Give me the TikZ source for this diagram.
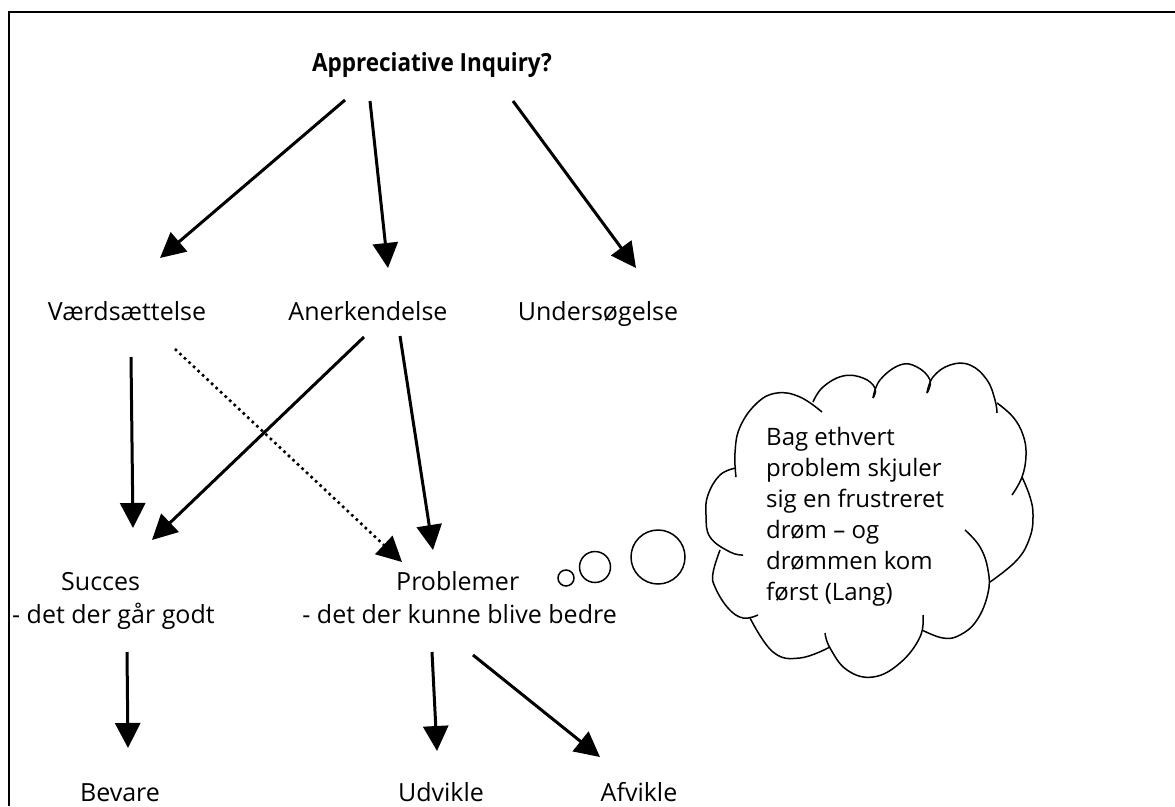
\documentclass[tikz,border=0pt]{standalone}
\usepackage{fontspec}
\setmainfont{Open Sans}
\usetikzlibrary{arrows.meta}
\begin{document}
\begin{tikzpicture}[x=1pt,y=-1pt,
  lbl/.style={inner sep=0pt, font=\fontsize{25}{30}\selectfont},
  ttl/.style={inner sep=0pt, font=\fontsize{25}{30}\selectfont\bfseries},
  conn/.style={line width=3pt, -{Triangle[length=25pt,width=25pt]}},
  dotconn/.style={line width=2.6pt, dash pattern=on 2.6pt off 3.6pt, -{Triangle[length=25pt,width=25pt]}},
  cloudline/.style={line width=1.5pt, smooth, tension=0.7},
  bub/.style={line width=1.5pt}
]
\useasboundingbox (0,0) rectangle (1175,806);
\draw[line width=2pt] (1175,12) -- (9,12) -- (9,806);

% labels
\node[ttl, anchor=base] (ai) at (432,71) {\scalebox{0.9}[1]{Appreciative Inquiry?}};
\node[lbl, anchor=base] (vard) at (127,320) {Værdsættelse};
\node[lbl, anchor=base] (aner) at (368,320) {Anerkendelse};
\node[lbl, anchor=base] (under) at (598,320) {Undersøgelse};
\node[lbl, anchor=base west] (succ) at (61,590) {Succes};
\node[lbl, anchor=base west] (succsub) at (12,623) {- det der går godt};
\node[lbl, anchor=base west] (prob) at (396,590) {Problemer};
\node[lbl, anchor=base east] (probsub) at (617,623) {- det der kunne blive bedre};
\node[lbl, anchor=base] (bev) at (120,801) {Bevare};
\node[lbl, anchor=base] (udv) at (441,801) {Udvikle};
\node[lbl, anchor=base] (afv) at (639,801) {Afvikle};

% connector end points
\coordinate (a1s) at (345,100); \coordinate (a1e) at (160,258);
\coordinate (a2s) at (370,101); \coordinate (a2e) at (388,268);
\coordinate (a3s) at (513,101); \coordinate (a3e) at (636,268);
\coordinate (a4s) at (131,357); \coordinate (a4e) at (133,528);
\coordinate (a5s) at (364,337); \coordinate (a5e) at (152,540);
\coordinate (a6s) at (400,336); \coordinate (a6e) at (433,550);
\coordinate (a7s) at (175,349); \coordinate (a7e) at (402,562);
\coordinate (a8s) at (127,652); \coordinate (a8e) at (128,748);
\coordinate (a9s) at (432,652); \coordinate (a9e) at (437,751);
\coordinate (a10s) at (473,655); \coordinate (a10e) at (600,757);

\draw[conn] (a1s) -- (a1e);
\draw[conn] (a2s) -- (a2e);
\draw[conn] (a3s) -- (a3e);
\draw[conn] (a4s) -- (a4e);
\draw[conn] (a5s) -- (a5e);
\draw[conn] (a6s) -- (a6e);
\draw[dotconn] (a7s) -- (a7e);
\draw[conn] (a8s) -- (a8e);
\draw[conn] (a9s) -- (a9e);
\draw[conn] (a10s) -- (a10e);

% thought bubbles
\draw[bub] (566,578) circle[radius=8];
\draw[bub] (595,567) circle[radius=15.5];
\draw[bub] (658,557) circle[radius=27];

% cloud
\draw[cloudline] plot coordinates {(822,412) (800,397) (777,393) (757,403) (740,427) (735,453) (736,477)};
\draw[cloudline] plot coordinates {(813,402) (823,387) (843,376) (863,378) (875,388) (873,398)};
\draw[cloudline] plot coordinates {(873,398) (880,380) (900,365) (917,367) (930,380) (927,393)};
\draw[cloudline] plot coordinates {(927,393) (933,377) (950,365) (970,365) (987,380) (995,400) (997,413)};
\draw[cloudline] plot coordinates {(997,403) (1013,417) (1023,435) (1026,455) (1022,477) (1012,495)};
\draw[cloudline] plot coordinates {(1022,477) (1030,497) (1033,515) (1030,537) (1017,560) (990,582)};
\draw[cloudline] plot coordinates {(965,530) (980,547) (988,570) (988,593) (977,620) (960,635) (943,638) (922,630)};
\draw[cloudline] plot coordinates {(923,615) (920,637) (900,663) (873,677) (847,670) (830,648) (825,633)};
\draw[cloudline] plot coordinates {(830,647) (800,658) (773,652) (750,618)};
\draw[cloudline] plot coordinates {(758,615) (743,618) (728,608) (715,587) (713,573) (720,550)};
\draw[cloudline] plot coordinates {(736,468) (720,475) (708,495) (706,515) (710,537) (730,552) (743,555)};

\node[inner sep=0pt, anchor=north west, align=left, font=\fontsize{24}{31}\selectfont] (cloudtext) at (766,427)
  {Bag ethvert\\problem skjuler\\sig en frustreret\\drøm – og\\drømmen kom\\først (Lang)};
\end{tikzpicture}
\end{document}
